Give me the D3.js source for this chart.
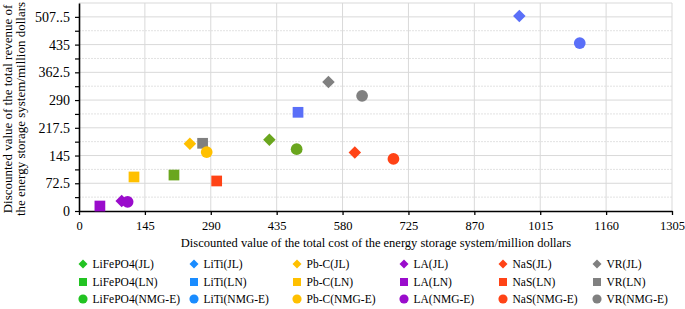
<!DOCTYPE html>
<html lang="en">
  <head>
    <meta charset="utf-8" />
    <title>Energy storage cost vs revenue</title>
    <script src="https://cdn.jsdelivr.net/npm/d3@7"></script>
    <style type="text/css">
      body { margin: 0; background: #fff; }
      svg text { font-family: "Liberation Serif", "Times New Roman", Times, serif !important; fill: #000; }
    </style>
  </head>
  <body>
    <div id="chart"></div>
    <script type="text/javascript">
      /*******************************************
       * data
       *******************************************/
      const batteries = ["LiFePO4", "LiTi", "Pb-C", "LA", "NaS", "VR"];
      const regions = ["JL", "LN", "NMG-E"];

      // discounted total cost (x) and total revenue (y), million dollars
      const costJL = [419, 969, 244, 94, 607, 549];
      const revenueJL = [186, 510, 176, 26, 153, 337];
      const costLN = [209, 482, 121, 46, 303, 272];
      const revenueLN = [94, 258, 89, 13, 78.5, 177];
      const costNMG = [479, 1102, 281, 107, 692, 623];
      const revenueNMG = [161.5, 439, 154, 24, 136, 301];

      const xTicks = [0, 145, 290, 435, 580, 725, 870, 1015, 1160, 1305];
      const yTicks = [0, 72.5, 145, 217.5, 290, 362.5, 435, 507.5];
      const yTickLabels = ["0", "72.5", "145", "217.5", "290", "362.5", "435", "507..5"];

      const costs = [costJL, costLN, costNMG];
      const revenues = [revenueJL, revenueLN, revenueNMG];

      /*******************************************
       * styles
       *******************************************/
      const serif = "'Liberation Serif', 'Times New Roman', serif";
      const plotColors = ["#6aa61e", "#5a6ff8", "#ffc000", "#9a0ccc", "#ff4316", "#808080"];
      const legendColors = ["#22c322", "#1a8cff", "#ffc000", "#9a0ccc", "#ff4316", "#808080"];
      const shapes = [d3.symbolDiamond2, d3.symbolSquare, d3.symbolCircle];
      const plotSizes = [100, 115, 108];
      const legendSizes = [52, 64, 66];

      /*******************************************
       * svg
       *******************************************/
      const width = 685;
      const height = 309;
      const margin = { top: 3, right: 13, bottom: 98, left: 79 };

      const svg = d3.select("#chart").append("svg")
        .attr("width", width)
        .attr("height", height)
        .attr("font-family", serif);

      const xScale = d3.scaleLinear()
        .domain([0, 1305])
        .range([margin.left, width - margin.right]);

      const yScale = d3.scaleLinear()
        .domain([0, 543.75])
        .range([height - margin.bottom, margin.top]);

      // grid
      const minorY = d3.range(36.25, 543.75, 72.5);
      svg.append("g").selectAll("line").data(minorY).enter().append("line")
        .attr("x1", xScale(0)).attr("x2", xScale(1305))
        .attr("y1", (d) => yScale(d)).attr("y2", (d) => yScale(d))
        .attr("stroke", "#e2e2e2").attr("stroke-dasharray", "2,1");

      svg.append("g").selectAll("line").data(yTicks.slice(1).concat([543.75])).enter().append("line")
        .attr("x1", xScale(0)).attr("x2", xScale(1305))
        .attr("y1", (d) => yScale(d)).attr("y2", (d) => yScale(d))
        .attr("stroke", "#d9d9d9");

      svg.append("g").selectAll("line").data(xTicks.slice(1)).enter().append("line")
        .attr("x1", (d) => xScale(d)).attr("x2", (d) => xScale(d))
        .attr("y1", yScale(0)).attr("y2", yScale(543.75))
        .attr("stroke", "#d9d9d9");

      // axes
      const xAxis = d3.axisBottom(xScale)
        .tickValues(xTicks)
        .tickFormat((d) => String(d))
        .tickSize(4).tickSizeOuter(0).tickPadding(6);
      const gx = svg.append("g")
        .attr("transform", `translate(0, ${yScale(0)})`)
        .call(xAxis)
        .attr("font-family", serif)
        .attr("font-size", 12.5);
      gx.select(".domain").attr("stroke", "#000").attr("stroke-width", 1.6);
      gx.selectAll(".tick line").attr("stroke", "#000").attr("stroke-width", 1.3);

      const yAxisMinor = d3.axisLeft(yScale).tickValues(minorY).tickSize(4).tickFormat("");
      const gym = svg.append("g")
        .attr("transform", `translate(${margin.left}, 0)`)
        .call(yAxisMinor);
      gym.select(".domain").remove();
      gym.selectAll(".tick line").attr("stroke", "#000").attr("stroke-width", 1.2);

      const yAxis = d3.axisLeft(yScale)
        .tickValues(yTicks)
        .tickFormat((d, i) => yTickLabels[i])
        .tickSize(4).tickSizeOuter(0).tickPadding(5);
      const gy = svg.append("g")
        .attr("transform", `translate(${margin.left}, 0)`)
        .call(yAxis)
        .attr("font-family", serif)
        .attr("font-size", 14);
      gy.select(".domain").attr("stroke", "#000").attr("stroke-width", 1.6);
      gy.selectAll(".tick line").attr("stroke", "#000").attr("stroke-width", 1.2);

      // axis titles
      svg.append("text")
        .attr("x", 376)
        .attr("y", 247)
        .attr("text-anchor", "middle")
        .attr("font-size", 12.5)
        .text("Discounted value of the total cost of the energy storage system/million dollars");

      const yTitle = svg.append("text")
        .attr("transform", `translate(12, 109) rotate(-90)`)
        .attr("text-anchor", "middle")
        .attr("font-size", 13);
      yTitle.append("tspan").attr("x", 0).attr("dy", 0).text("Discounted value of the total revenue of");
      yTitle.append("tspan").attr("x", 0).attr("dy", 13).text("the energy storage system/million dollars");

      /*******************************************
       * points
       *******************************************/
      regions.forEach((region, r) => {
        const pts = batteries.map((b, i) => ({ b: i, x: costs[r][i], y: revenues[r][i] }));
        svg.append("g").selectAll("path").data(pts).enter().append("path")
          .attr("d", d3.symbol().type(shapes[r]).size(plotSizes[r]))
          .attr("transform", (d) => `translate(${xScale(d.x)}, ${yScale(d.y)})`)
          .attr("fill", (d) => plotColors[d.b]);
      });

      /*******************************************
       * legend
       *******************************************/
      const legendX = [83, 194, 297, 404, 503, 597];
      const legendY = [264, 282, 299];
      const legend = svg.append("g");
      regions.forEach((region, r) => {
        batteries.forEach((b, i) => {
          legend.append("path")
            .attr("d", d3.symbol().type(shapes[r]).size(legendSizes[r]))
            .attr("transform", `translate(${legendX[i]}, ${legendY[r]})`)
            .attr("fill", legendColors[i]);
          legend.append("text")
            .attr("x", legendX[i] + 9.5)
            .attr("y", legendY[r] + 4)
            .attr("font-size", 11.5)
            .text(`${b}(${region})`);
        });
      });
    </script>
  </body>
</html>
